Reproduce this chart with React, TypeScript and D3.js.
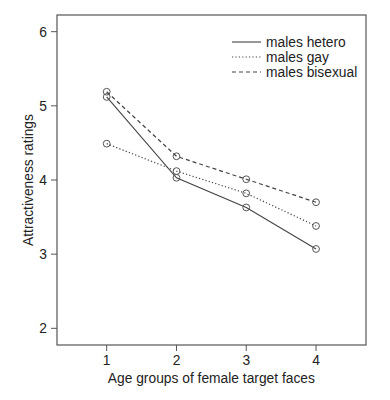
import React from 'react';
import * as d3 from 'd3';

const ageGroups = [1, 2, 3, 4];
const hetero = [5.12, 4.03, 3.63, 3.07];
const gay = [4.49, 4.12, 3.82, 3.38];
const bisexual = [5.19, 4.32, 4.01, 3.70];
const yTicks = [2, 3, 4, 5, 6];
const seriesNames = ['males hetero', 'males gay', 'males bisexual'];

const W = 390;
const H = 400;
const box = { left: 57, right: 366, top: 15, bottom: 345 };
const font = 'Liberation Sans, Arial, Helvetica, sans-serif';
const ink = '#444';
const fs = 13.8;

const App = () => {
  // R-style padded domains
  const x = d3.scaleLinear().domain([0.288, 4.716]).range([box.left, box.right]);
  const y = d3.scaleLinear().domain([1.775, 6.225]).range([box.bottom, box.top]);

  const line = d3.line<number>()
    .x((d, i) => x(ageGroups[i]))
    .y(d => y(d));

  const series = [
    { name: seriesNames[0], values: hetero, dash: null, width: 1.1 },
    { name: seriesNames[1], values: gay, dash: '1.2,2.2', width: 1.2 },
    { name: seriesNames[2], values: bisexual, dash: '4,3', width: 1.2 },
  ];

  return (
    <svg width={W} height={H} style={{ position: 'absolute', left: 0, top: 0, background: '#fff' }}
      fontFamily={font}>
      <rect x={box.left} y={box.top} width={box.right - box.left} height={box.bottom - box.top}
        fill="none" stroke="#555" strokeWidth={1.2} />

      {/* y axis */}
      {yTicks.map(t => (
        <g key={t}>
          <line x1={box.left - 6} x2={box.left} y1={y(t)} y2={y(t)} stroke="#555" />
          <text x={box.left - 10} y={y(t)} dy="0.35em" textAnchor="end" fontSize={fs} fill="#222">{t}</text>
        </g>
      ))}
      <text transform={`translate(28,${(box.top + box.bottom) / 2}) rotate(-90)`} textAnchor="middle"
        dy="0.35em" fontSize={fs} fill="#222">Attractiveness ratings</text>

      {/* x axis */}
      {ageGroups.map(t => (
        <g key={t}>
          <line x1={x(t)} x2={x(t)} y1={box.bottom} y2={box.bottom + 6} stroke="#555" />
          <text x={x(t)} y={box.bottom + 15} dy="0.35em" textAnchor="middle" fontSize={fs} fill="#222">{t}</text>
        </g>
      ))}
      <text x={(x(1) + x(4)) / 2} y={box.bottom + 33} dy="0.35em" textAnchor="middle" fontSize={fs}
        fill="#222">Age groups of female target faces</text>

      {/* series */}
      {series.map(s => (
        <g key={s.name}>
          <path d={line(s.values) || ''} fill="none" stroke={ink} strokeWidth={s.width}
            strokeDasharray={s.dash || undefined} />
          {s.values.map((v, i) => (
            <circle key={i} cx={x(ageGroups[i])} cy={y(v)} r={3.4} fill="none" stroke="#555" strokeWidth={1} />
          ))}
        </g>
      ))}

      {/* legend */}
      {series.map((s, i) => (
        <g key={s.name} transform={`translate(232,${42 + i * 15})`}>
          <line x1={0} x2={29} y1={0} y2={0} stroke={ink} strokeWidth={s.width}
            strokeDasharray={s.dash || undefined} />
          <text x={34} y={0} dy="0.35em" fontSize={fs} fill="#222">{s.name}</text>
        </g>
      ))}
    </svg>
  );
};

export default App;
